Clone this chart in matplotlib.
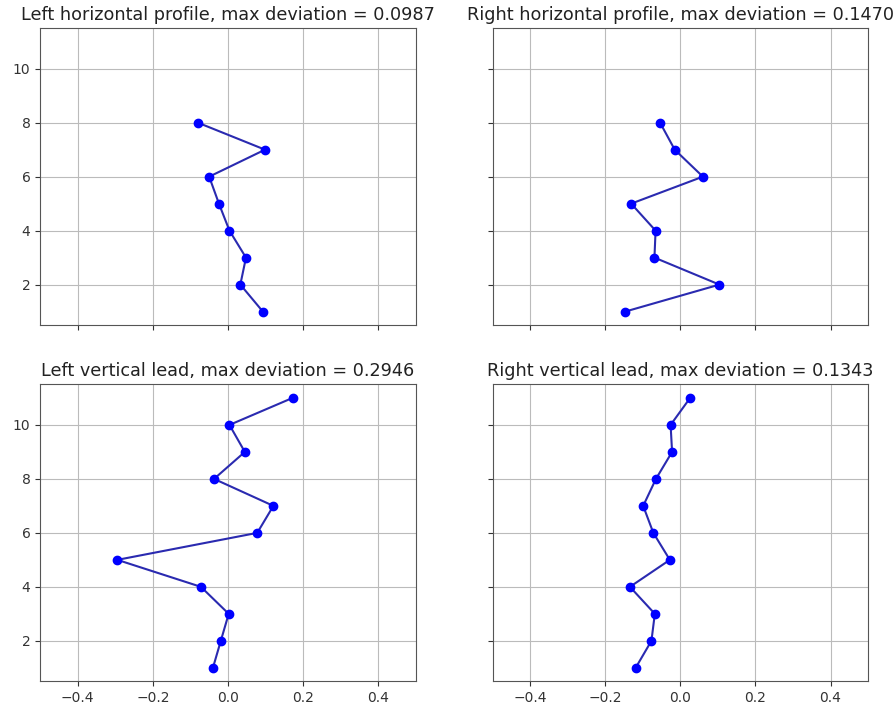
import matplotlib
matplotlib.use('Agg')
import matplotlib.pyplot as plt

plt.rcParams['font.family'] = ['DejaVu Sans']

# Vertical positions (points along each lead / profile)
pos_horizontal = [1, 2, 3, 4, 5, 6, 7, 8]
pos_vertical = [1, 2, 3, 4, 5, 6, 7, 8, 9, 10, 11]

# Deviations
left_horizontal = [0.093, 0.033, 0.048, 0.004, -0.024, -0.050, 0.0987, -0.080]
right_horizontal = [-0.1470, 0.104, -0.069, -0.066, -0.131, 0.060, -0.015, -0.054]
left_vertical = [-0.040, -0.019, 0.002, -0.072, -0.2946, 0.078, 0.121, -0.037, 0.045, 0.004, 0.172]
right_vertical = [-0.119, -0.077, -0.068, -0.1343, -0.028, -0.072, -0.099, -0.065, -0.022, -0.026, 0.026]

titles = ['Left horizontal profile', 'Right horizontal profile',
          'Left vertical lead', 'Right vertical lead']
series = [(left_horizontal, pos_horizontal), (right_horizontal, pos_horizontal),
          (left_vertical, pos_vertical), (right_vertical, pos_vertical)]

fig, axes = plt.subplots(2, 2, figsize=(8.94, 7.06), dpi=100, sharex=True, sharey=True)

for ax, title, (dev, pos) in zip(axes.flat, titles, series):
    ax.plot(dev, pos, '-', color='#2a2ab0', linewidth=1.5)
    ax.plot(dev, pos, 'o', color='blue', markersize=6)
    max_dev = max(abs(d) for d in dev)
    ax.set_title(f'{title}, max deviation = {max_dev:.4f}', fontsize=12.7, color='#222222')
    ax.grid(True, color='#bbbbbb')
    ax.set_xlim(-0.5, 0.5)
    ax.tick_params(labelsize=10, colors='#333333')
    for s in ax.spines.values():
        s.set_color('#555555')

plt.subplots_adjust(left=0.045, right=0.971, top=0.96, bottom=0.035, wspace=0.205, hspace=0.2)
plt.savefig('out.png')
